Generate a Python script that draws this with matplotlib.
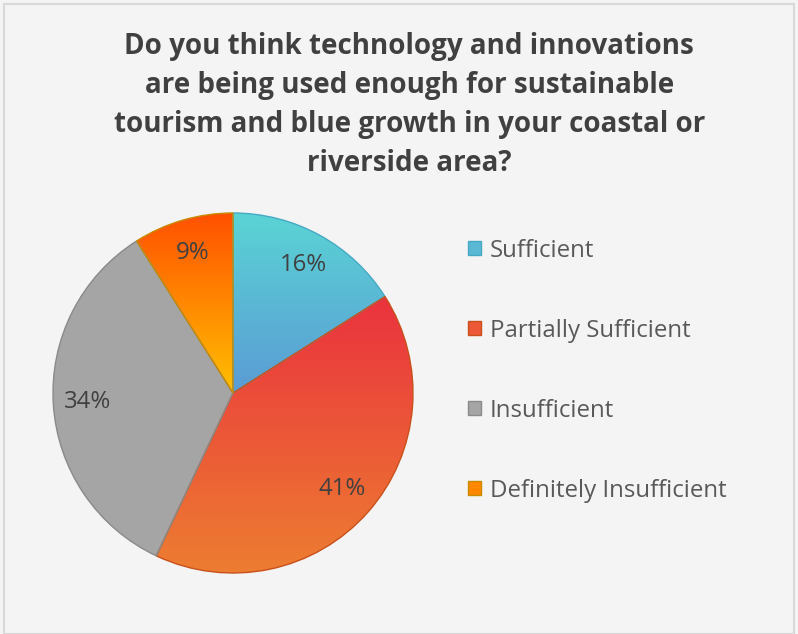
import numpy as np
import matplotlib.pyplot as plt
from matplotlib.patches import Patch, Rectangle
from matplotlib.colors import LinearSegmentedColormap, to_rgb

categories = ["Sufficient", "Partially Sufficient", "Insufficient", "Definitely Insufficient"]
values = [16, 41, 34, 9]
# top colour, bottom colour, edge colour
grad_top = ["#5AD4D4", "#EA323E", "#A5A5A5", "#FF5000"]
grad_bottom = ["#5B9BD5", "#ED7D31", "#A5A5A5", "#FFC000"]
edge_cols = ["#46A9C4", "#C8501A", "#8A8A8A", "#C88A00"]

title = ("Do you think technology and innovations\nare being used enough for sustainable\n"
         "tourism and blue growth in your coastal or\nriverside area?")

W, H = 798, 634
BG = "#F4F4F4"
fig = plt.figure(figsize=(W / 100, H / 100), dpi=100, facecolor=BG)
fig.patches.append(Rectangle((4 / W, 0), (W - 8) / W, (H - 4) / H, transform=fig.transFigure,
                             fill=False, edgecolor="#D9D9D9", lw=1.5))

# pie centre and radius in pixels
cx, cy, r = 233, 393, 180
ax = fig.add_axes([(cx - r) / W, (H - cy - r) / H, 2 * r / W, 2 * r / H])
wedges, texts, autotexts = ax.pie(values, startangle=90, counterclock=False,
                                  autopct=lambda p: f"{p:.0f}%", pctdistance=0.81,
                                  wedgeprops=dict(linewidth=1.0))
ax.set_xlim(-1, 1)
ax.set_ylim(-1, 1)
ax.set_aspect("equal")

# vertical gradient fill for every slice
for w, top, bot, ec in zip(wedges, grad_top, grad_bottom, edge_cols):
    w.set_facecolor("none")
    w.set_edgecolor(ec)
    w.set_zorder(3)
    ang = np.radians(np.linspace(w.theta1, w.theta2, 200))
    ys = np.concatenate([np.sin(ang), [0]])
    xs = np.concatenate([np.cos(ang), [0]])
    cmap = LinearSegmentedColormap.from_list("g", [bot, top])
    grad = np.linspace(0, 1, 256).reshape(-1, 1)
    im = ax.imshow(grad, cmap=cmap, origin="lower", aspect="auto",
                   extent=[xs.min(), xs.max(), ys.min(), ys.max()], zorder=2)
    im.set_clip_path(w)

for t in autotexts:
    t.set_fontsize(17.3)
    t.set_color("#404040")
    t.set_fontfamily("Open Sans")
    t.set_zorder(5)

fig.text(0.513, 1 - 32 / H, title, ha="center", va="top", fontsize=20, fontweight="bold",
         family="Open Sans", color="#404040", linespacing=1.45)

handles = [Patch(facecolor=(np.array(to_rgb(t)) + to_rgb(b)) / 2, edgecolor=ec, lw=1.0)
           for t, b, ec in zip(grad_top, grad_bottom, edge_cols)]
leg = fig.legend(handles, categories, loc="upper left", bbox_to_anchor=(446 / W, 1 - 217 / H),
                 frameon=False, labelspacing=2.33, handlelength=0.55,
                 handleheight=0.55, handletextpad=0.37,
                 prop=dict(family="Open Sans", size=17.3))
for t in leg.get_texts():
    t.set_color("#595959")

fig.savefig("out.png", dpi=100, facecolor=BG)
